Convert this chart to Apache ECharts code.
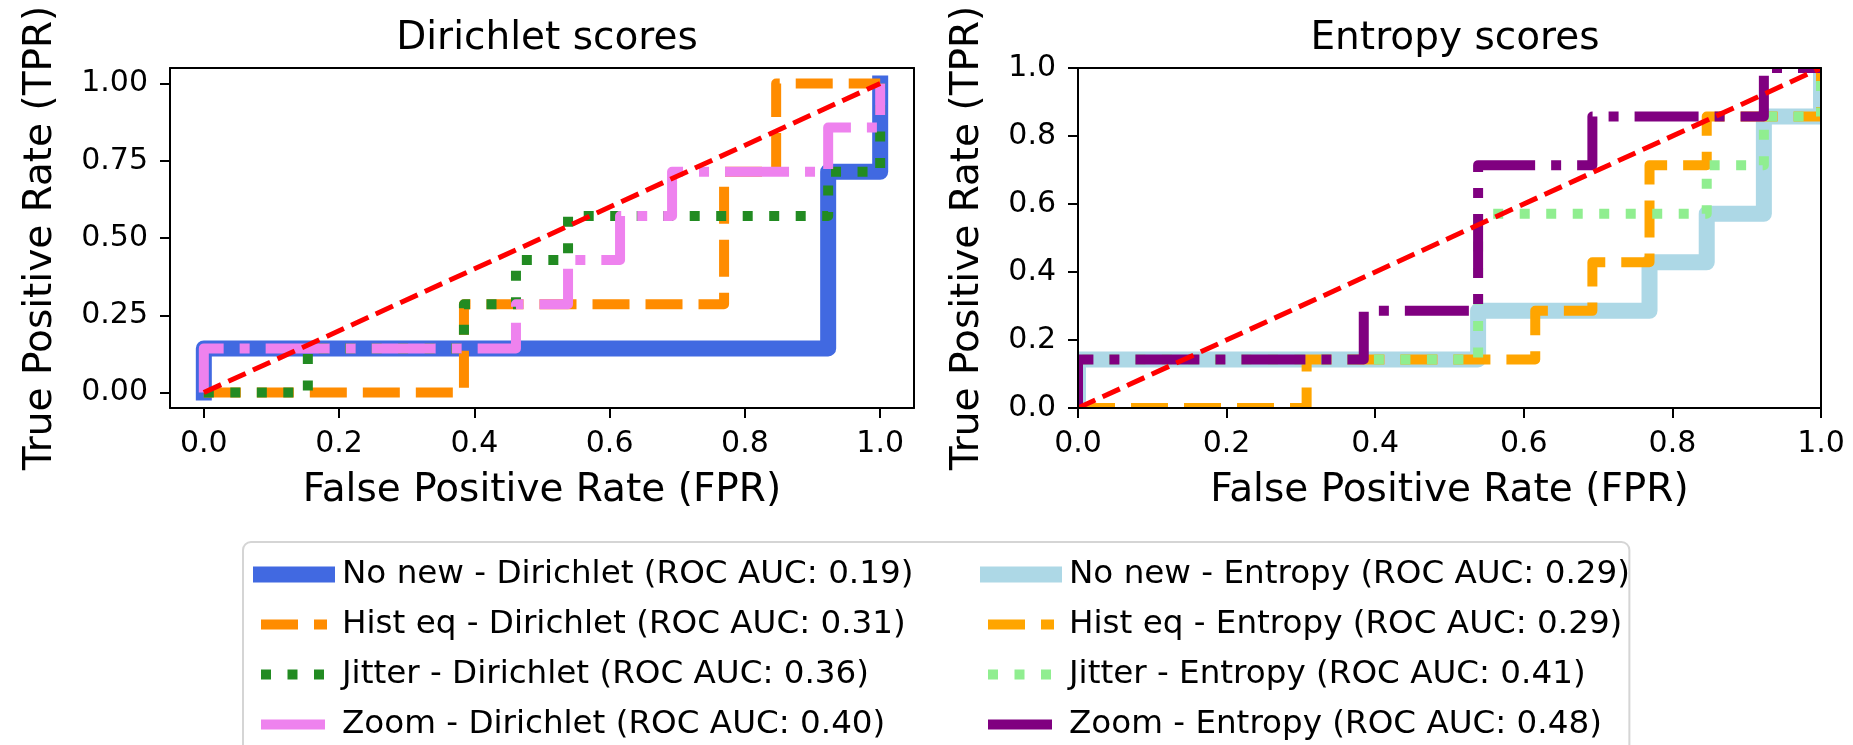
<!DOCTYPE html>
<html>
<head>
<meta charset="utf-8">
<script src="https://cdn.jsdelivr.net/npm/echarts@6/dist/echarts.min.js"></script>
<style>
html,body{margin:0;padding:0;background:#fff;}
#chart{width:1853px;height:745px;}
</style>
</head>
<body>
<div id="chart"></div>
<script>
// ---- Data ----
const titles = ['Dirichlet scores', 'Entropy scores'];
const xTicks = [0, 0.2, 0.4, 0.6, 0.8, 1.0];
const yTicksLeft = [0, 0.25, 0.5, 0.75, 1.0];
const yTicksRight = [0, 0.2, 0.4, 0.6, 0.8, 1.0];

const legendLabels = [
  'No new - Dirichlet (ROC AUC: 0.19)',
  'Hist eq - Dirichlet (ROC AUC: 0.31)',
  'Jitter - Dirichlet (ROC AUC: 0.36)',
  'Zoom - Dirichlet (ROC AUC: 0.40)',
  'No new - Entropy (ROC AUC: 0.29)',
  'Hist eq - Entropy (ROC AUC: 0.29)',
  'Jitter - Entropy (ROC AUC: 0.41)',
  'Zoom - Entropy (ROC AUC: 0.48)'
];

// Dirichlet ROC curves
const dirNoNewFpr = [0, 0, 0.9231, 0.9231, 1, 1];
const dirNoNewTpr = [0, 0.1429, 0.1429, 0.7143, 0.7143, 1];
const dirHistFpr = [0, 0.3846, 0.3846, 0.7692, 0.7692, 0.8462, 0.8462, 1];
const dirHistTpr = [0, 0, 0.2857, 0.2857, 0.7143, 0.7143, 1, 1];
const dirJitterFpr = [0, 0.1538, 0.1538, 0.3846, 0.3846, 0.4615, 0.4615, 0.5385, 0.5385, 0.9231, 0.9231, 1, 1];
const dirJitterTpr = [0, 0, 0.1429, 0.1429, 0.2857, 0.2857, 0.4286, 0.4286, 0.5714, 0.5714, 0.7143, 0.7143, 1];
const dirZoomFpr = [0, 0, 0.4615, 0.4615, 0.5385, 0.5385, 0.6154, 0.6154, 0.6923, 0.6923, 0.9231, 0.9231, 1, 1];
const dirZoomTpr = [0, 0.1429, 0.1429, 0.2857, 0.2857, 0.4286, 0.4286, 0.5714, 0.5714, 0.7143, 0.7143, 0.8571, 0.8571, 1];

// Entropy ROC curves
const entNoNewFpr = [0, 0, 0.5385, 0.5385, 0.7692, 0.7692, 0.8462, 0.8462, 0.9231, 0.9231, 1, 1];
const entNoNewTpr = [0, 0.1429, 0.1429, 0.2857, 0.2857, 0.4286, 0.4286, 0.5714, 0.5714, 0.8571, 0.8571, 1];
const entHistFpr = [0, 0.3077, 0.3077, 0.6154, 0.6154, 0.6923, 0.6923, 0.7692, 0.7692, 0.8462, 0.8462, 1, 1];
const entHistTpr = [0, 0, 0.1429, 0.1429, 0.2857, 0.2857, 0.4286, 0.4286, 0.7143, 0.7143, 0.8571, 0.8571, 1];
const entJitterFpr = [0, 0, 0.5385, 0.5385, 0.8462, 0.8462, 0.9231, 0.9231, 1, 1];
const entJitterTpr = [0, 0.1429, 0.1429, 0.5714, 0.5714, 0.7143, 0.7143, 0.8571, 0.8571, 1];
const entZoomFpr = [0, 0, 0.3846, 0.3846, 0.5385, 0.5385, 0.6923, 0.6923, 0.9231, 0.9231, 1];
const entZoomTpr = [0, 0.1429, 0.1429, 0.2857, 0.2857, 0.7143, 0.7143, 0.8571, 0.8571, 1, 1];

// Chance diagonal
const diagFpr = [0, 1];
const diagTpr = [0, 1];

// ---- Styles ----
const FONT = 'DejaVu Sans';
const zip = (xs, ys) => xs.map((x, i) => [x, ys[i]]);
const DASHED = [37, 16];
const DOTTED = [10, 16.5];
const DASHDOT = [64, 16, 10, 16];

const curveDefs = [
  {name: legendLabels[0], fpr: dirNoNewFpr, tpr: dirNoNewTpr, panel: 0, color: '#4169E1', width: 16, type: 'solid', cap: 'square'},
  {name: legendLabels[1], fpr: dirHistFpr, tpr: dirHistTpr, panel: 0, color: '#FF8C00', width: 10, type: DASHED, cap: 'butt'},
  {name: legendLabels[2], fpr: dirJitterFpr, tpr: dirJitterTpr, panel: 0, color: '#228B22', width: 10, type: DOTTED, cap: 'butt'},
  {name: legendLabels[3], fpr: dirZoomFpr, tpr: dirZoomTpr, panel: 0, color: '#EE82EE', width: 10, type: DASHDOT, cap: 'butt'},
  {name: legendLabels[4], fpr: entNoNewFpr, tpr: entNoNewTpr, panel: 1, color: '#ADD8E6', width: 16, type: 'solid', cap: 'square'},
  {name: legendLabels[5], fpr: entHistFpr, tpr: entHistTpr, panel: 1, color: '#FFA500', width: 10, type: DASHED, cap: 'butt'},
  {name: legendLabels[6], fpr: entJitterFpr, tpr: entJitterTpr, panel: 1, color: '#90EE90', width: 10, type: DOTTED, cap: 'butt'},
  {name: legendLabels[7], fpr: entZoomFpr, tpr: entZoomTpr, panel: 1, color: '#800080', width: 10, type: DASHDOT, cap: 'butt'}
];

const series = [];
curveDefs.filter(c => c.panel === 0).forEach(c => series.push(mkLine(c)));
series.push(mkDiag(0));
curveDefs.filter(c => c.panel === 1).forEach(c => series.push(mkLine(c)));
series.push(mkDiag(1));

function mkLine(c) {
  return {
    type: 'line', name: c.name, xAxisIndex: c.panel * 2, yAxisIndex: c.panel * 2,
    data: zip(c.fpr, c.tpr), symbol: 'none', animation: false, clip: true,
    lineStyle: {color: c.color, width: c.width, type: c.type, cap: c.cap, join: 'round'},
    itemStyle: {color: c.color}, z: 2
  };
}
function mkDiag(p) {
  return {
    type: 'line', name: 'diag' + p, xAxisIndex: p * 2, yAxisIndex: p * 2,
    data: zip(diagFpr, diagTpr), symbol: 'none', animation: false, clip: true,
    lineStyle: {color: '#FF0000', width: 5, type: [19, 8], cap: 'butt'}, z: 3
  };
}

function mainX(gridIndex, min, max) {
  return {
    type: 'value', gridIndex, min, max, position: 'bottom', z: 10,
    name: 'False Positive Rate (FPR)', nameLocation: 'middle', nameGap: 63,
    nameTextStyle: {fontFamily: FONT, fontSize: 39, color: '#000'},
    axisLine: {show: true, onZero: false, lineStyle: {color: '#000', width: 2}},
    axisTick: {show: true, length: 10, customValues: xTicks, lineStyle: {color: '#000', width: 2}},
    axisLabel: {show: true, customValues: xTicks, margin: 21, fontFamily: FONT, fontSize: 30, color: '#000',
      formatter: v => v.toFixed(1)},
    splitLine: {show: false}
  };
}
function frameX(gridIndex, min, max) {
  return {
    type: 'value', gridIndex, min, max, position: 'top', z: 10,
    axisLine: {show: true, onZero: false, lineStyle: {color: '#000', width: 2}},
    axisTick: {show: false}, axisLabel: {show: false}, splitLine: {show: false}
  };
}
function mainY(gridIndex, min, max, ticks, digits, gap) {
  return {
    type: 'value', gridIndex, min, max, position: 'left', z: 10,
    name: 'True Positive Rate (TPR)', nameLocation: 'middle', nameGap: gap,
    nameTextStyle: {fontFamily: FONT, fontSize: 39, color: '#000'},
    axisLine: {show: true, onZero: false, lineStyle: {color: '#000', width: 2}},
    axisTick: {show: true, length: 10, customValues: ticks, lineStyle: {color: '#000', width: 2}},
    axisLabel: {show: true, customValues: ticks, margin: 22, fontFamily: FONT, fontSize: 30, color: '#000',
      formatter: v => v.toFixed(digits)},
    splitLine: {show: false}
  };
}
function frameY(gridIndex, min, max) {
  return {
    type: 'value', gridIndex, min, max, position: 'right', z: 10,
    axisLine: {show: true, onZero: false, lineStyle: {color: '#000', width: 2}},
    axisTick: {show: false}, axisLabel: {show: false}, splitLine: {show: false}
  };
}

const legendItem = c => ({
  name: c.name,
  lineStyle: {width: c.width, color: c.color, type: c.type, cap: c.cap},
  itemStyle: {opacity: 0}
});
const legendCommon = {
  show: true, orient: 'vertical', top: 542, height: 200, itemGap: 17, itemWidth: 66, itemHeight: 20,
  selectedMode: false,
  textStyle: {fontFamily: FONT, fontSize: 32.6, color: '#000', padding: [0, 0, 0, 10]}
};

// Grid rectangles (layout) used to trim line overflow outside the axes box
const grids = [
  {left: 170, top: 68, width: 744, height: 340},
  {left: 1078, top: 68, width: 743, height: 340}
];
const M = 12;
const masks = [];
grids.forEach(g => {
  const s = {fill: '#fff'};
  masks.push({type: 'rect', z: 5, silent: true, shape: {x: g.left - M, y: g.top - M, width: g.width + 2 * M, height: M}, style: s});
  masks.push({type: 'rect', z: 5, silent: true, shape: {x: g.left - M, y: g.top + g.height, width: g.width + 2 * M, height: M}, style: s});
  masks.push({type: 'rect', z: 5, silent: true, shape: {x: g.left - M, y: g.top - M, width: M, height: g.height + 2 * M}, style: s});
  masks.push({type: 'rect', z: 5, silent: true, shape: {x: g.left + g.width, y: g.top - M, width: M, height: g.height + 2 * M}, style: s});
});

const option = {
  backgroundColor: '#fff',
  animation: false,
  title: [
    {text: titles[0], left: 542, top: 14, textAlign: 'center',
      textStyle: {fontFamily: FONT, fontSize: 39, fontWeight: 'normal', color: '#000'}},
    {text: titles[1], left: 1450, top: 14, textAlign: 'center',
      textStyle: {fontFamily: FONT, fontSize: 39, fontWeight: 'normal', color: '#000'}}
  ],
  grid: grids,
  xAxis: [mainX(0, -0.05, 1.05), frameX(0, -0.05, 1.05), mainX(1, 0, 1), frameX(1, 0, 1)],
  yAxis: [mainY(0, -0.05, 1.05, yTicksLeft, 2, 110), frameY(0, -0.05, 1.05),
          mainY(1, 0, 1, yTicksRight, 1, 91), frameY(1, 0, 1)],
  legend: [
    Object.assign({}, legendCommon, {
      left: 243, padding: [16, 716, 30, 10],
      backgroundColor: 'rgba(255,255,255,0.8)', borderColor: '#d5d5d5', borderWidth: 2, borderRadius: 8,
      data: curveDefs.filter(c => c.panel === 0).map(legendItem)
    }),
    Object.assign({}, legendCommon, {
      left: 980, padding: [16, 0, 30, 0],
      data: curveDefs.filter(c => c.panel === 1).map(legendItem)
    })
  ],
  graphic: masks,
  series
};

const chart = echarts.init(document.getElementById('chart'), null, {renderer: 'canvas'});
chart.setOption(option);
</script>
</body>
</html>
